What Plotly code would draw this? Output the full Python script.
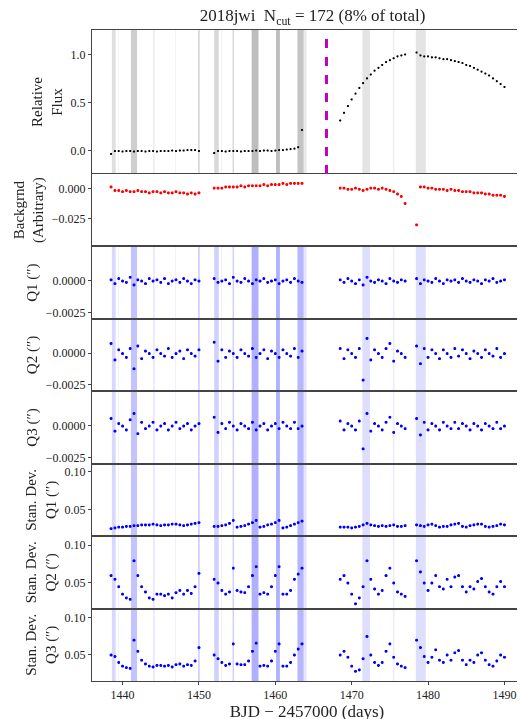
import plotly.graph_objects as go
from plotly.subplots import make_subplots

t = [1438.5,1439,1439.5,1440,1440.5,1441,1441.5,1442,1442.5,1443,1443.5,1444,1444.5,1445,1445.5,1446,1446.5,1447,1447.5,1448,1448.5,1449,1449.5,1450,
     1452,1452.5,1453,1453.5,1454,1454.5,1455,1455.5,1456,1456.5,1457,1457.5,1458,1458.5,1459,1459.5,1460,1460.5,1461,1461.5,1462,1462.5,1463,1463.5,
     1468.5,1469,1469.5,1470,1470.5,1471,1471.5,1472,1472.5,1473,1473.5,1474,1474.5,1475,1475.5,1476,1476.5,1477,
     1478.5,1479,1479.5,1480,1480.5,1481,1481.5,1482,1482.5,1483,1483.5,1484,1484.5,1485,1485.5,1486,1486.5,1487,1487.5,1488,1488.5,1489,1489.5,1490]

flux = [-0.03,0.0,0.0,-0.005,0.0,0.0,-0.005,0.0,0.0,-0.005,0.0,0.0,-0.005,0.0,0.0,0.0,0.005,0.0,0.005,0.005,0.01,0.01,0.01,0.0,
        -0.02,0.0,0.0,-0.005,0.0,0.0,0.0,-0.005,0.0,0.0,0.0,0.005,0.0,0.005,0.005,0.0,0.005,0.01,0.01,0.015,0.02,0.025,0.04,0.22,
        0.32,0.40,0.47,0.54,0.60,0.66,0.71,0.76,0.80,0.84,0.87,0.90,0.93,0.95,0.97,0.99,1.00,1.01,
        1.03,1.00,0.99,0.99,0.98,0.98,0.97,0.96,0.96,0.95,0.94,0.93,0.92,0.90,0.89,0.87,0.85,0.83,0.81,0.79,0.76,0.73,0.70,0.67]

bkg = [0.002,-0.001,-0.001,-0.002,-0.001,-0.002,-0.002,-0.001,-0.002,-0.002,-0.003,-0.002,-0.002,-0.003,-0.002,-0.003,-0.003,-0.002,-0.003,-0.003,-0.004,-0.003,-0.004,-0.003,
       0.001,0.001,0.001,0.002,0.002,0.002,0.002,0.003,0.002,0.003,0.003,0.003,0.003,0.004,0.003,0.004,0.004,0.004,0.005,0.004,0.005,0.005,0.005,0.005,
       0.001,0.001,0.0,0.0,0.001,0.0,-0.001,0.0,0.001,0.001,0.0,0.001,0.0,-0.001,-0.002,-0.004,-0.006,-0.012,
       -0.03,0.002,0.002,0.001,0.001,0.0,0.0,0.0,-0.001,0.0,-0.001,-0.001,-0.002,-0.002,-0.002,-0.003,-0.003,-0.003,-0.004,-0.004,-0.005,-0.005,-0.005,-0.006]

q1 = [0.0001,-0.0002,0.0002,0.0,-0.0001,0.0003,-0.0003,0.0001,0.0,-0.0002,0.0002,0.0,0.0001,-0.0001,0.0002,-0.0002,0.0,0.0001,-0.0001,0.0002,0.0,-0.0002,0.0001,0.0,
      0.0002,-0.0001,0.0,0.0001,-0.0002,0.0003,0.0,-0.0001,0.0002,0.0,-0.0002,0.0001,0.0,0.0002,-0.0001,0.0,0.0001,-0.0002,0.0,0.0001,-0.0001,0.0002,0.0,-0.0001,
      0.0001,-0.0001,0.0002,0.0,-0.0002,0.0001,-0.0003,0.0003,0.0,-0.0001,0.0001,0.0,-0.0002,0.0002,0.0,-0.0001,0.0001,0.0,
      0.0002,-0.0002,0.0001,0.0,-0.0001,0.0002,0.0,-0.0002,0.0001,0.0,0.0001,-0.0001,0.0002,0.0,-0.0001,0.0001,0.0,-0.0002,0.0001,0.0,0.0002,-0.0001,0.0,0.0001]

q2 = [0.0008,-0.0005,0.0003,0.0,-0.0003,0.0004,-0.0012,0.0006,-0.0004,0.0002,0.0,-0.0003,0.0003,0.0,-0.0002,0.0004,-0.0003,0.0,0.0002,-0.0004,0.0003,0.0,-0.0002,0.0003,
      0.0009,-0.0006,0.0003,-0.0003,0.0002,0.0,-0.0003,0.0003,0.0,-0.0002,0.0004,-0.0003,0.0,0.0003,-0.0004,0.0002,0.0,-0.0003,0.0003,0.0,-0.0002,0.0004,-0.0003,0.0002,
      0.0004,-0.0004,0.0003,0.0,-0.0003,0.0004,-0.0021,0.0012,-0.0005,0.0003,0.0,-0.0003,0.0004,0.0008,-0.0006,0.0002,0.0,-0.0003,
      0.0006,-0.0008,0.0004,-0.0003,0.0003,0.0,-0.0004,0.0003,0.0,-0.0003,0.0004,-0.0002,0.0003,0.0,-0.0004,0.0002,0.0,-0.0003,0.0003,0.0,-0.0002,0.0004,-0.0003,0.0]

q3 = [0.0006,-0.0004,0.0002,0.0,-0.0003,0.0005,0.0010,-0.0006,0.0003,-0.0002,0.0,0.0003,-0.0003,0.0,0.0002,-0.0003,0.0,0.0003,-0.0002,0.0,0.0002,-0.0003,0.0,0.0002,
      0.0007,-0.0005,0.0002,-0.0002,0.0003,0.0,-0.0003,0.0002,0.0,-0.0002,0.0003,-0.0003,0.0,0.0002,-0.0003,0.0,0.0002,-0.0002,0.0003,0.0,-0.0002,0.0003,-0.0002,0.0,
      0.0004,-0.0003,0.0002,0.0,-0.0003,0.0004,-0.0018,0.0010,-0.0004,0.0002,0.0,-0.0003,0.0003,0.0007,-0.0005,0.0002,0.0,-0.0002,
      0.0006,-0.0007,0.0003,-0.0003,0.0002,0.0,-0.0003,0.0003,0.0,-0.0002,0.0003,-0.0002,0.0002,0.0,-0.0003,0.0002,0.0,-0.0003,0.0002,0.0,-0.0002,0.0003,-0.0002,0.0]

sd1 = [0.025,0.026,0.027,0.027,0.028,0.028,0.029,0.029,0.03,0.03,0.03,0.031,0.03,0.029,0.03,0.03,0.031,0.031,0.03,0.029,0.03,0.031,0.032,0.033,
       0.028,0.028,0.029,0.03,0.032,0.036,0.027,0.028,0.029,0.031,0.033,0.036,0.027,0.028,0.03,0.031,0.033,0.036,0.026,0.027,0.029,0.031,0.033,0.035,
       0.027,0.027,0.027,0.026,0.027,0.028,0.03,0.032,0.03,0.029,0.028,0.029,0.028,0.029,0.03,0.028,0.028,0.029,
       0.03,0.029,0.028,0.03,0.031,0.029,0.027,0.028,0.028,0.03,0.031,0.032,0.028,0.027,0.029,0.03,0.031,0.031,0.028,0.027,0.028,0.029,0.031,0.03]

sd2 = [0.06,0.055,0.045,0.035,0.03,0.028,0.08,0.06,0.045,0.038,0.03,0.028,0.035,0.035,0.033,0.035,0.03,0.037,0.04,0.035,0.04,0.036,0.045,0.063,
       0.055,0.05,0.04,0.035,0.038,0.07,0.04,0.038,0.037,0.045,0.06,0.072,0.035,0.037,0.035,0.045,0.06,0.072,0.035,0.035,0.04,0.055,0.062,0.07,
       0.055,0.06,0.05,0.035,0.022,0.03,0.045,0.08,0.055,0.042,0.035,0.04,0.06,0.07,0.05,0.038,0.035,0.032,
       0.08,0.065,0.05,0.04,0.05,0.06,0.045,0.042,0.055,0.045,0.058,0.06,0.045,0.038,0.045,0.042,0.052,0.056,0.045,0.038,0.035,0.045,0.052,0.045]

sd3 = [0.05,0.048,0.04,0.035,0.033,0.032,0.07,0.055,0.043,0.038,0.035,0.034,0.036,0.036,0.035,0.036,0.034,0.037,0.038,0.035,0.037,0.036,0.042,0.06,
       0.05,0.045,0.04,0.036,0.038,0.065,0.038,0.037,0.037,0.042,0.055,0.066,0.035,0.036,0.035,0.042,0.055,0.065,0.035,0.035,0.04,0.05,0.058,0.065,
       0.05,0.055,0.047,0.035,0.028,0.03,0.045,0.075,0.05,0.04,0.036,0.04,0.055,0.065,0.047,0.038,0.035,0.033,
       0.07,0.06,0.048,0.04,0.047,0.057,0.043,0.04,0.05,0.043,0.053,0.056,0.043,0.037,0.043,0.04,0.05,0.053,0.043,0.037,0.035,0.042,0.05,0.047]

bands = [(1438.6,1439.1,0.3),(1439.4,1439.5,0.15),(1441.1,1441.9,0.45),(1444.0,1444.2,0.2),(1446.9,1447.0,0.15),
         (1449.9,1450.1,0.4),(1452.0,1452.6,0.35),(1452.9,1453.0,0.15),(1454.4,1454.6,0.35),(1456.9,1457.8,0.6),
         (1460.1,1460.6,0.6),(1462.9,1463.7,0.55),(1463.7,1464.1,0.2),(1471.4,1472.4,0.25),(1475.4,1475.6,0.15),(1478.4,1479.7,0.25)]
explosion = 1466.7

rows = [(flux,'black','Relative<br>Flux',[-0.24,1.26],[0,0.5,1.0],['0.0','0.5','1.0']),
        (bkg,'red','Backgrnd<br>(Arbitrary)',[-0.0483,0.0125],[0,-0.025],['0.000','−0.025']),
        (q1,'blue','Q1 (″)',[-0.0030,0.0027],[0,-0.0025],['0.0000','−0.0025']),
        (q2,'blue','Q2 (″)',[-0.0030,0.0027],[0,-0.0025],['0.0000','−0.0025']),
        (q3,'blue','Q3 (″)',[-0.0030,0.0027],[0,-0.0025],['0.0000','−0.0025']),
        (sd1,'blue','Stan. Dev.<br>Q1 (″)',[0.0145,0.1105],[0.05,0.10],['0.05','0.10']),
        (sd2,'blue','Stan. Dev.<br>Q2 (″)',[0.015,0.112],[0.05,0.10],['0.05','0.10']),
        (sd3,'blue','Stan. Dev.<br>Q3 (″)',[0.015,0.112],[0.05,0.10],['0.05','0.10'])]

fig = make_subplots(rows=8, cols=1, shared_xaxes=True, vertical_spacing=0,
                    row_heights=[145,73,73,73,73,73,73,73])
font = dict(family='Liberation Serif', size=12, color='#222')
for i,(vals,col,title,rng,tv,tt) in enumerate(rows, start=1):
    fig.add_trace(go.Scattergl(x=t, y=vals, mode='markers', marker=dict(size=2.5 if i==1 else 3, color=col),
                               showlegend=False), row=i, col=1)
    fig.update_yaxes(row=i, col=1, range=rng, tickvals=tv, ticktext=tt, title=dict(text=title, font=dict(size=15), standoff=4),
                     showgrid=False, zeroline=False, showline=True, linecolor='#444', mirror=True,
                     ticks='outside', ticklen=3, tickfont=font)
    fig.update_xaxes(row=i, col=1, range=[1436.0,1492.3], showgrid=False, zeroline=False, showline=True,
                     linecolor='#444', mirror=True, ticks='outside' if i==8 else '', ticklen=3,
                     tickvals=[1440,1450,1460,1470,1480,1490], tickfont=font)
fig.update_xaxes(row=8, col=1, title=dict(text='BJD − 2457000 (days)', font=dict(size=17), standoff=2))

for i in [1,3,4,5,6,7,8]:
    yd = 'y domain' if i==1 else f'y{i} domain'
    xr = 'x' if i==1 else f'x{i}'
    c = '120,120,120' if i==1 else '90,90,255'
    for x0,x1,a in bands:
        fig.add_shape(type='rect', xref=xr, yref=yd, x0=x0, x1=x1, y0=0, y1=1,
                      fillcolor=f'rgba({c},{a*0.8})', line_width=0, layer='below')
fig.add_shape(type='line', xref='x', yref='y domain', x0=explosion, x1=explosion, y0=0, y1=1,
              line=dict(color='#c000c0', width=3, dash='dash'))

fig.update_layout(width=525, height=719, margin=dict(l=83, r=10, t=22, b=46),
                  plot_bgcolor='white', paper_bgcolor='white', font=font,
                  title=dict(text='2018jwi  N<sub>cut</sub> = 172 (8% of total)', x=0.58, xanchor='center',
                             y=0.998, yanchor='top', font=dict(size=17)))
fig.write_html('out.html')
